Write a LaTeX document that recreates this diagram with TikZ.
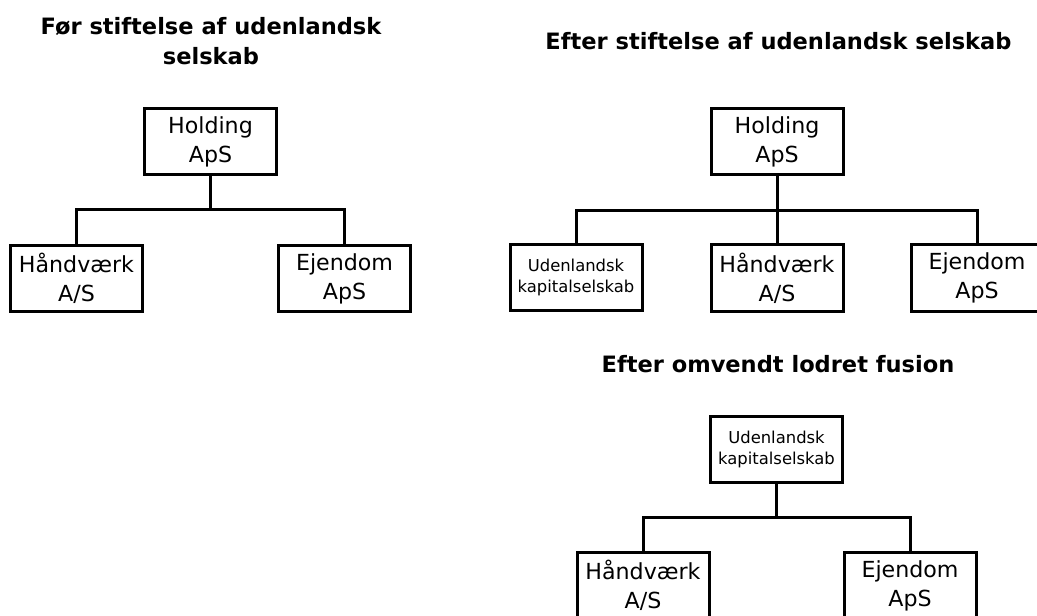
\documentclass[tikz,border=0pt]{standalone}
\usepackage{fontspec}
\setmainfont{DejaVu Sans}
\begin{document}
\begin{tikzpicture}
[x=0.75pt,y=-0.75pt,
selskab/.style={draw,line width=2.25pt,align=center,inner sep=0pt,
minimum width=99pt,minimum height=49.5pt,
font=\fontsize{16.6}{21.75}\selectfont},
lille/.style={font=\fontsize{12.3}{15.75}\selectfont},
overskrift/.style={align=center,inner sep=0pt,
font=\fontsize{16.9}{22.5}\selectfont\bfseries},
streg/.style={line width=2.25pt}]
       \useasboundingbox (0,0) rectangle (1037,616);
       \clip (0,0) rectangle (1037,616);
       % foer stiftelse
       \node (titel1) at (211,41) [overskrift] {Før stiftelse af udenlandsk\\selskab};
       \node (hold1) at (210.5,141.5) [selskab] {Holding\\ApS};
       \node (haand1) at (76.5,278.5) [selskab] {Håndværk\\A/S};
       \node (ejen1) at (344.5,278.5) [selskab] {Ejendom\\ApS};
       \coordinate (gren1) at (210.5,210);
       \draw[streg] (hold1.south) -- (gren1);
       \draw[streg] (gren1) -| (haand1.north);
       \draw[streg] (gren1) -| (ejen1.north);
       % efter stiftelse
       \node (titel2) at (778.5,41) [overskrift] {Efter stiftelse af udenlandsk selskab};
       \node (hold2) at (777,141.5) [selskab] {Holding\\ApS};
       \node (udl2) at (576,277.5) [selskab,lille] {Udenlandsk\\kapitalselskab};
       \node (haand2) at (777,278) [selskab] {Håndværk\\A/S};
       \node (ejen2) at (977,278) [selskab] {Ejendom\\ApS};
       \coordinate (gren2) at (777,211);
       \draw[streg] (hold2.south) -- (haand2.north);
       \draw[streg] (gren2) -| (udl2.north);
       \draw[streg] (gren2) -| (ejen2.north);
       % efter fusion
       \node (titel3) at (778,364) [overskrift] {Efter omvendt lodret fusion};
       \node (udl3) at (776.5,449) [selskab,lille] {Udenlandsk\\kapitalselskab};
       \node (haand3) at (643,585.5) [selskab] {Håndværk\\A/S};
       \node (ejen3) at (910,585.5) [selskab] {Ejendom\\ApS};
       \coordinate (gren3) at (776.5,517);
       \draw[streg] (udl3.south) -- (gren3);
       \draw[streg] (gren3) -| (haand3.north);
       \draw[streg] (gren3) -| (ejen3.north);
    \end{tikzpicture}
\end{document}
